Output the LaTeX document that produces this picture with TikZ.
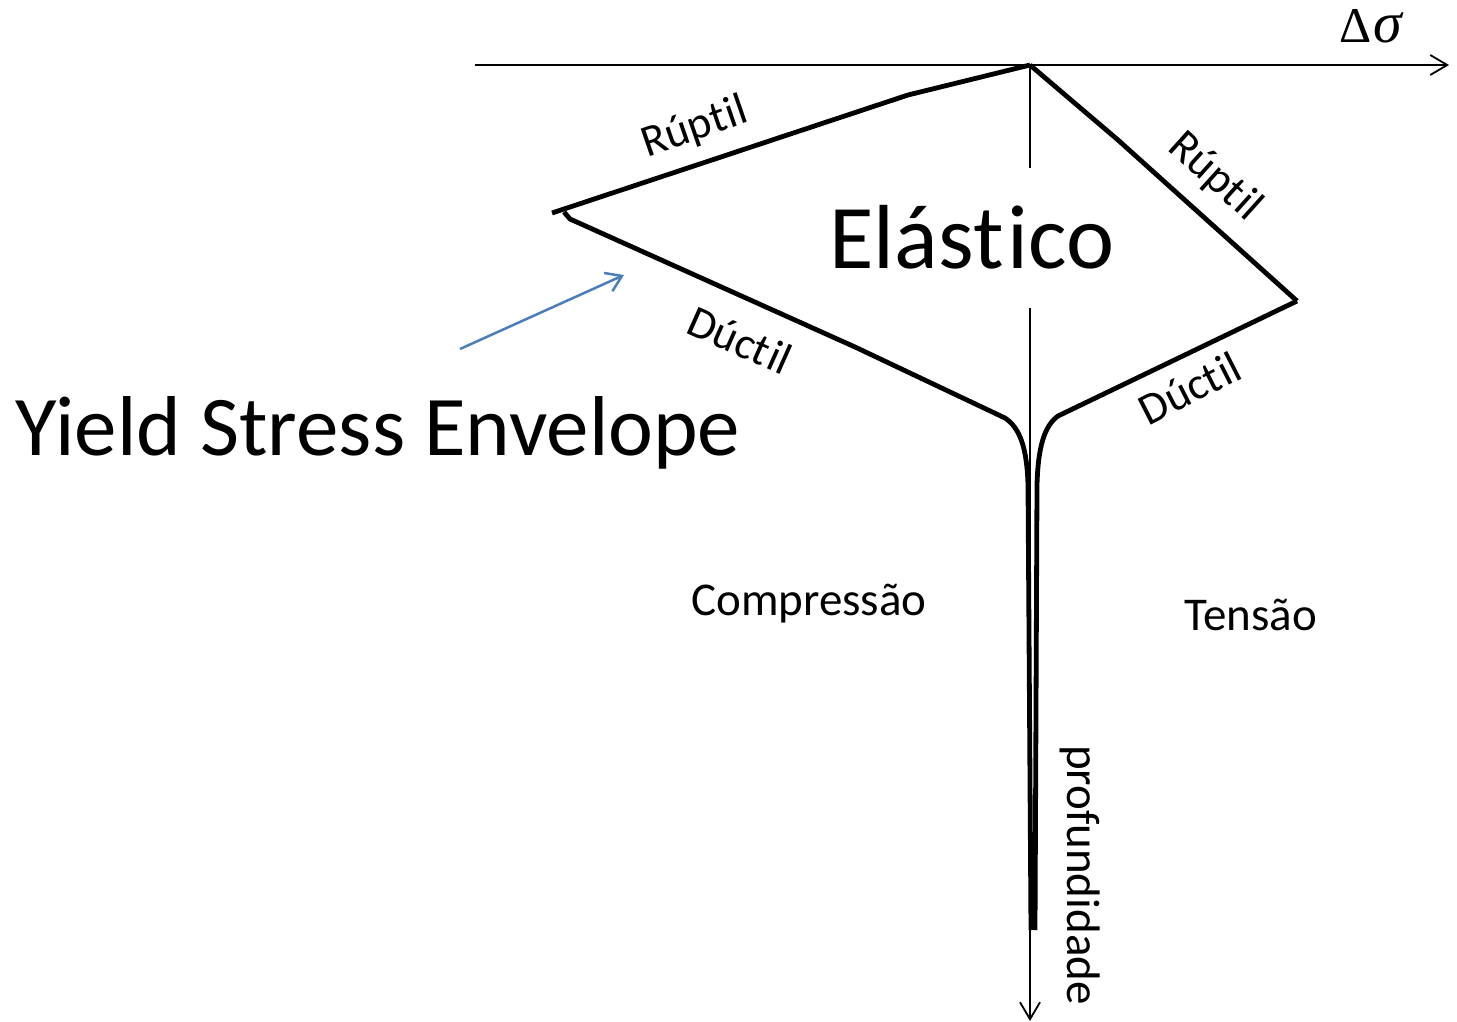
\documentclass[tikz,border=0pt]{standalone}
\usepackage{fontspec}
\setmainfont{Carlito}[Ligatures={NoCommon,NoContextual}]
\newfontfamily\serifgr{Liberation Serif}
\usetikzlibrary{arrows.meta}
\definecolor{arrowblue}{RGB}{74,126,187}
\newcommand{\tisep}{\hbox{t}\kern0.04em i}
\tikzset{
  axis/.style={line width=1.8pt, -{Straight Barb[length=17pt,width=20pt,line width=1.8pt]}},
  axisline/.style={line width=1.8pt},
  env/.style={line width=4.8pt, line join=round},
  lbl/.style={inner sep=0pt, font=\fontsize{45}{50}\selectfont},
  midtxt/.style={inner sep=0pt, font=\fontsize{47}{52}\selectfont},
  bigtxt/.style={inner sep=0pt, font=\fontsize{85}{94}\selectfont},
  pointer/.style={draw=arrowblue, line width=2.5pt, -{Straight Barb[length=15pt,width=20pt,line width=2.5pt]}}
}
\begin{document}
\begin{tikzpicture}[x=1pt,y=-1pt]
\useasboundingbox (0,0) rectangle (1457,1022);
% coordinates
\coordinate (hstart) at (475,65);
\coordinate (hend) at (1449,65);
\coordinate (origin) at (1030,65);
\coordinate (vgap1) at (1030,168);
\coordinate (vgap2) at (1030,308);
\coordinate (vend) at (1030,1021);
% axes
\draw[axis] (hstart) -- (hend);
\draw[axisline] (origin) -- (vgap1);
\draw[axis] (vgap2) -- (vend);
% envelope left
\coordinate (lr1) at (908,95);
\coordinate (lr2) at (552,213);
\coordinate (ld0) at (564,212);
\coordinate (ld1) at (570,219);
\coordinate (ld2) at (855,347);
\coordinate (ld3) at (1005,418);
\coordinate (ld4) at (1028,485);
\coordinate (ldend) at (1031,930);
\draw[env] (origin) -- (lr1) -- (lr2);
\draw[env] (ld0) -- (ld1) -- (ld2) -- (ld3) .. controls (1020,428) and (1027,448) .. (ld4) -- (ldend);
% envelope right
\coordinate (rr1) at (1118,140);
\coordinate (rr2) at (1297,301);
\coordinate (rd1) at (1058,416);
\coordinate (rd2) at (1037,485);
\coordinate (rdend) at (1035,930);
\draw[env] (origin) -- (rr1) -- (rr2);
\draw[env] (rr2) -- (rd1) .. controls (1044,426) and (1038,448) .. (rd2) -- (rdend);
% labels
\node[lbl, rotate=19] (rup1) at (695,128) {Rúp\tisep l};
\node[lbl, rotate=-42] (rup2) at (1215,177) {Rúp\tisep l};
\node[lbl, rotate=-24] (duc1) at (740,340) {Dúc\tisep l};
\node[lbl, rotate=27] (duc2) at (1190,388) {Dúc\tisep l};
\node[bigtxt, anchor=base, font=\fontsize{91}{96}\selectfont] (elas) at (972,268) {Elás\tisep co};
\node[bigtxt, anchor=base west] (yse) at (15,455) {Yield Stress Envelope};
\node[midtxt, anchor=base] (comp) at (809,615) {Compressão};
\node[midtxt, anchor=base] (tens) at (1251,630) {Tensão};
\node[midtxt, rotate=-90] (prof) at (1080,875) {profundidade};
\node[inner sep=0pt, anchor=base, font=\fontsize{50}{54}\selectfont\serifgr] (ds) at (1371,43) {Δ\kern2pt{\fontsize{58}{58}\selectfont\itshape σ}};
% pointer
\coordinate (pstart) at (460,349);
\coordinate (pend) at (624,275);
\draw[pointer] (pstart) -- (pend);
\end{tikzpicture}
\end{document}
